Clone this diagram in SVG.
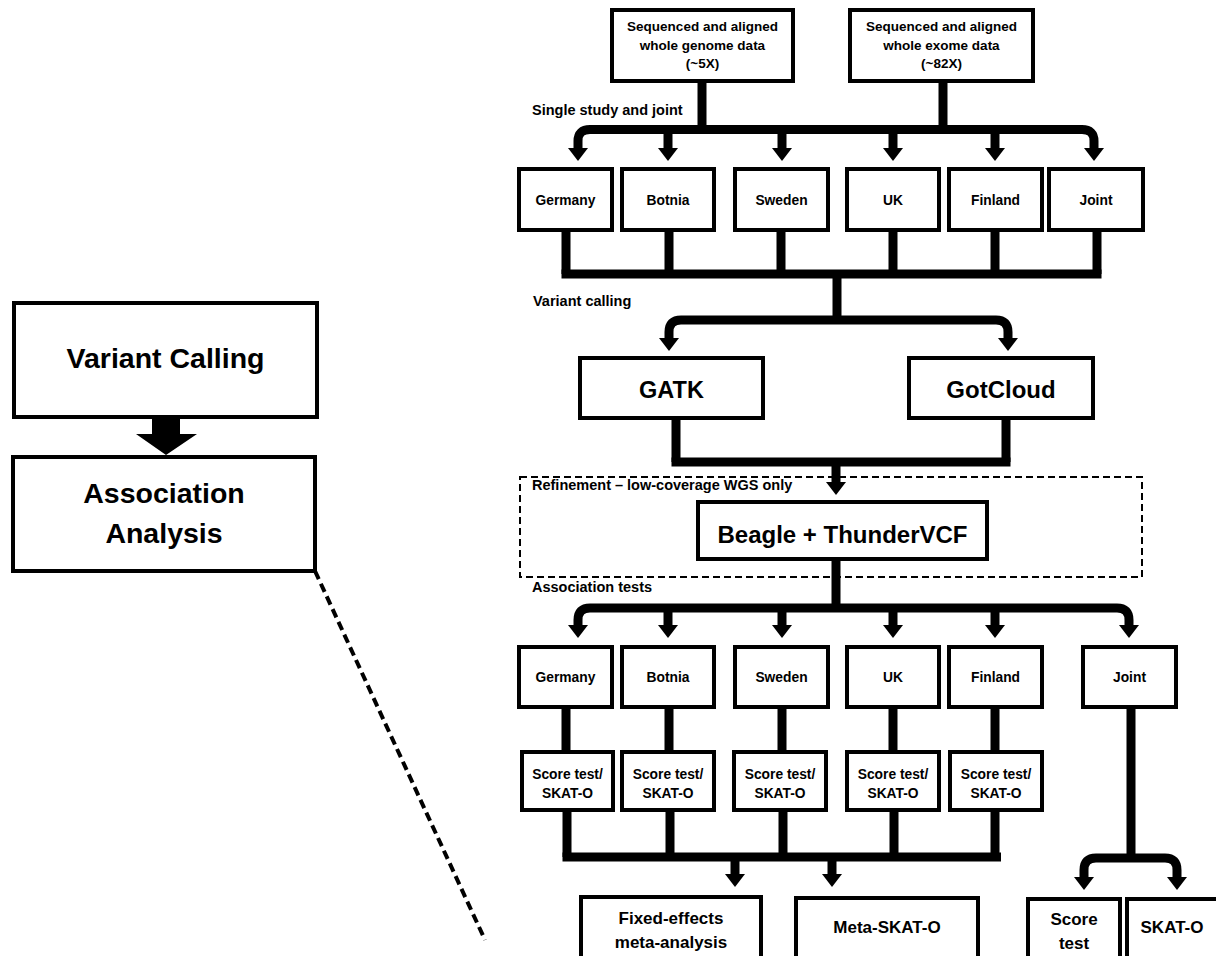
<svg xmlns="http://www.w3.org/2000/svg" width="1216" height="956" viewBox="0 0 1216 956">
<style>
text{font-family:"Liberation Sans",Arial,sans-serif;font-weight:bold;fill:#000;text-anchor:middle}
.box{fill:#fff;stroke:#000;stroke-width:4}
.big{fill:#fff;stroke:#000;stroke-width:4}
.c{fill:none;stroke:#000;stroke-width:9}
.lbl{font-size:14.5px;text-anchor:start}
.top{font-size:13.5px}
.s{font-size:13.8px}
.m{font-size:24px}
.l{font-size:28.5px}
.b{font-size:17px}
</style>
<defs>
<marker id="ah" viewBox="0 0 13 20" refX="0" refY="10" markerWidth="13" markerHeight="20" markerUnits="userSpaceOnUse" orient="auto-start-reverse">
<path d="M0,0 L13,10 L0,20 z" fill="#000"/>
</marker>
</defs>
<rect width="1216" height="956" fill="#fff"/>

<g id="connectors">
<!-- top stems -->
<path class="c" d="M702,81 V130"/>
<path class="c" d="M943,81 V130"/>
<path class="c" d="M578,148 V141 Q578,129.5 590,129.5 H1082 Q1094,129.5 1094,141 V148" marker-start="url(#ah)" marker-end="url(#ah)"/>
<path class="c" d="M668,129.5 V148" marker-end="url(#ah)"/>
<path class="c" d="M782,129.5 V148" marker-end="url(#ah)"/>
<path class="c" d="M893,129.5 V148" marker-end="url(#ah)"/>
<path class="c" d="M995,129.5 V148" marker-end="url(#ah)"/>
<!-- row1 to bar -->
<path class="c" d="M566,230 V274 M669,230 V274 M781,230 V274 M893,230 V274 M995,230 V274 M1097,230 V274"/>
<path class="c" d="M561.5,274 H1101.5"/>
<path class="c" d="M837,274 V320"/>
<path class="c" d="M669,338 V332 Q669,320 681,320 H996 Q1008,320 1008,332 V338" marker-start="url(#ah)" marker-end="url(#ah)"/>
<!-- GATK / GotCloud merge -->
<path class="c" d="M676,418 V462 M1006,418 V462"/>
<path class="c" d="M671.5,462 H1010.5"/>
<path class="c" d="M836,462 V482" marker-end="url(#ah)"/>
<!-- Beagle to association -->
<path class="c" d="M836,559 V608"/>
<path class="c" d="M578,625 V620 Q578,608 590,608 H1117 Q1129,608 1129,620 V625" marker-start="url(#ah)" marker-end="url(#ah)"/>
<path class="c" d="M668,608 V625" marker-end="url(#ah)"/>
<path class="c" d="M782,608 V625" marker-end="url(#ah)"/>
<path class="c" d="M893,608 V625" marker-end="url(#ah)"/>
<path class="c" d="M995,608 V625" marker-end="url(#ah)"/>
<!-- row2 to score -->
<path class="c" d="M566,707 V752 M669,707 V752 M782,707 V752 M893,707 V752 M995,707 V752"/>
<path class="c" d="M1131,707 V858"/>
<!-- score to meta -->
<path class="c" d="M567,810 V857 M670,810 V857 M783,810 V857 M894,810 V857 M995,810 V857"/>
<path class="c" d="M562.5,857 H1001"/>
<path class="c" d="M735,857 V874" marker-end="url(#ah)"/>
<path class="c" d="M832,857 V874" marker-end="url(#ah)"/>
<!-- joint split -->
<path class="c" d="M1084,877 V870 Q1084,858 1096,858 H1165 Q1177,858 1177,870 V877" marker-start="url(#ah)" marker-end="url(#ah)"/>
<!-- left arrow -->
<polygon points="152,417 180,417 180,434 197,434 166,455 136,434 152,434" fill="#000"/>
<!-- zoom dashed line -->
<path d="M315,571 L485,940" fill="none" stroke="#000" stroke-width="4" stroke-dasharray="9 5"/>
</g>

<g id="refinement-region">
<rect x="520" y="477" width="622" height="100" fill="none" stroke="#000" stroke-width="2" stroke-dasharray="7 4"/>
</g>

<g id="labels">
<text class="lbl" x="532" y="115">Single study and joint</text>
<text class="lbl" x="533" y="306">Variant calling</text>
<text class="lbl" x="532" y="490">Refinement – low-coverage WGS only</text>
<text class="lbl" x="532" y="592">Association tests</text>
</g>

<g id="genome">
<rect class="box" x="612" y="10" width="181" height="71"/>
<text class="top" x="702.5" y="31">Sequenced and aligned</text>
<text class="top" x="702.5" y="50">whole genome data</text>
<text class="top" x="702.5" y="68">(~5X)</text>
</g>
<g id="exome">
<rect class="box" x="850" y="10" width="183" height="71"/>
<text class="top" x="941.5" y="31">Sequenced and aligned</text>
<text class="top" x="941.5" y="50">whole exome data</text>
<text class="top" x="941.5" y="68">(~82X)</text>
</g>

<g id="call-germany"><rect class="box" x="519" y="169" width="93" height="61"/><text class="s" x="565.5" y="205">Germany</text></g>
<g id="call-botnia"><rect class="box" x="622" y="169" width="92" height="61"/><text class="s" x="668" y="205">Botnia</text></g>
<g id="call-sweden"><rect class="box" x="735" y="169" width="93" height="61"/><text class="s" x="781.5" y="205">Sweden</text></g>
<g id="call-uk"><rect class="box" x="847" y="169" width="92" height="61"/><text class="s" x="893" y="205">UK</text></g>
<g id="call-finland"><rect class="box" x="949" y="169" width="93" height="61"/><text class="s" x="995.5" y="205">Finland</text></g>
<g id="call-joint"><rect class="box" x="1049" y="169" width="94" height="61"/><text class="s" x="1096" y="205">Joint</text></g>

<g id="gatk"><rect class="box" x="580" y="358" width="183" height="60"/><text class="m" x="671.5" y="398" style="font-size:23.5px">GATK</text></g>
<g id="gotcloud"><rect class="box" x="909" y="358" width="184" height="60"/><text class="m" x="1001" y="398">GotCloud</text></g>

<g id="beagle"><rect class="box" x="698" y="502" width="289" height="57"/><text class="m" x="842.5" y="543">Beagle + ThunderVCF</text></g>

<g id="assoc-germany"><rect class="box" x="519" y="647" width="93" height="60"/><text class="s" x="565.5" y="682">Germany</text></g>
<g id="assoc-botnia"><rect class="box" x="622" y="647" width="92" height="60"/><text class="s" x="668" y="682">Botnia</text></g>
<g id="assoc-sweden"><rect class="box" x="735" y="647" width="93" height="60"/><text class="s" x="781.5" y="682">Sweden</text></g>
<g id="assoc-uk"><rect class="box" x="847" y="647" width="92" height="60"/><text class="s" x="893" y="682">UK</text></g>
<g id="assoc-finland"><rect class="box" x="949" y="647" width="93" height="60"/><text class="s" x="995.5" y="682">Finland</text></g>
<g id="assoc-joint"><rect class="box" x="1083" y="647" width="93" height="60"/><text class="s" x="1129.5" y="682">Joint</text></g>

<g id="score-germany"><rect class="box" x="522" y="752" width="91" height="58"/><text class="s" x="567.5" y="779">Score test/</text><text class="s" x="567.5" y="798">SKAT-O</text></g>
<g id="score-botnia"><rect class="box" x="622" y="752" width="92" height="58"/><text class="s" x="668" y="779">Score test/</text><text class="s" x="668" y="798">SKAT-O</text></g>
<g id="score-sweden"><rect class="box" x="734" y="752" width="92" height="58"/><text class="s" x="780" y="779">Score test/</text><text class="s" x="780" y="798">SKAT-O</text></g>
<g id="score-uk"><rect class="box" x="847" y="752" width="92" height="58"/><text class="s" x="893" y="779">Score test/</text><text class="s" x="893" y="798">SKAT-O</text></g>
<g id="score-finland"><rect class="box" x="950" y="752" width="92" height="58"/><text class="s" x="996" y="779">Score test/</text><text class="s" x="996" y="798">SKAT-O</text></g>

<g id="fixed-effects"><rect class="box" x="581" y="897" width="180" height="75"/><text class="b" x="671" y="924">Fixed-effects</text><text class="b" x="671" y="948">meta-analysis</text></g>
<g id="meta-skat-o"><rect class="box" x="796" y="898" width="182" height="75"/><text class="b" x="887" y="933">Meta-SKAT-O</text></g>
<g id="joint-score-test"><rect class="box" x="1028" y="899" width="92" height="75"/><text class="b" x="1074" y="925">Score</text><text class="b" x="1074" y="949">test</text></g>
<g id="joint-skat-o"><rect class="box" x="1127" y="899" width="110" height="75"/><text class="b" x="1172" y="933">SKAT-O</text></g>

<g id="variant-calling"><rect class="big" x="14" y="303" width="303" height="114"/><text class="l" x="165.5" y="368">Variant Calling</text></g>
<g id="association-analysis"><rect class="big" x="13" y="457" width="302" height="114"/><text class="l" x="164" y="503">Association</text><text class="l" x="164" y="543">Analysis</text></g>
</svg>
